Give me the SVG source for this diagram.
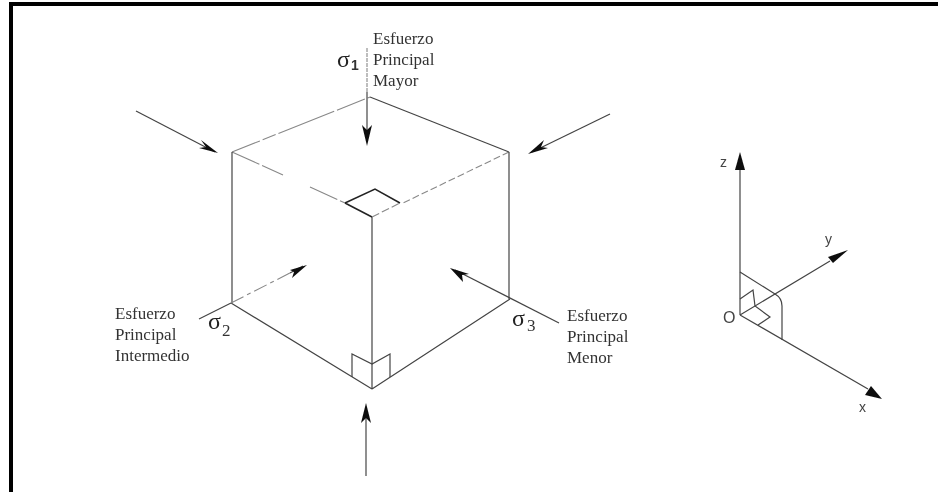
<svg xmlns="http://www.w3.org/2000/svg" width="938" height="492" viewBox="0 0 938 492">
<defs>
<style>
.e{fill:none;stroke:#444;stroke-width:1.2}
.d{fill:none;stroke:#888;stroke-width:1.1}
.k{fill:none;stroke:#222;stroke-width:1.5}
.h{fill:#111;stroke:none}
.t{font-family:"Liberation Serif","Times New Roman",serif;font-size:17px;fill:#333}
.s{font-family:"Liberation Serif",serif;font-size:24px;fill:#222}
.n{font-family:"Liberation Serif",serif;font-size:17px;fill:#333}
.u{font-family:"Liberation Sans",Arial,sans-serif;font-size:14px;font-weight:bold;fill:#333}
.a{font-family:"Liberation Sans",Arial,sans-serif;font-size:14px;fill:#444}
.o{font-family:"Liberation Sans",Arial,sans-serif;font-size:16px;fill:#444}
</style>
<filter id="b" x="-5%" y="-5%" width="110%" height="110%"><feGaussianBlur stdDeviation="0.55"/></filter>
</defs>
<rect width="938" height="492" fill="#fff"/>
<g id="frame"><path d="M938 4H11V492" fill="none" stroke="#000" stroke-width="4"/></g>
<g filter="url(#b)">
<g id="connectors">
<path class="d" d="M232 152L370 97" stroke-dasharray="30 3 14 3 60 3"/>
<path class="e" d="M370 97L509 152"/>
<path class="d" d="M232 152L283 175M310 187L345 203" stroke-dasharray="30 3"/>
<path class="d" d="M509 152L403 203" stroke-dasharray="7 3"/>
<path class="e" d="M232 152V303M509 152V299M372 217V389M231 303L372 389M510 299L372 389"/>
<path class="k" d="M345 203L375 189L400 203M345 203L372 217"/>
<path class="d" d="M372 217L400 203" stroke-dasharray="8 3"/>
<path class="e" d="M352 377V354L372 364L390 354V377"/>
<path class="d" d="M367 48V92" stroke-dasharray="4 1"/>
<path class="e" d="M367 92V132"/>
<path class="h" d="M367 146L362 125L367 130L372 125Z"/>
<path class="e" d="M136 111L215 152"/>
<path class="h" d="M218 153L201 140L206 147L199 148Z"/>
<path class="e" d="M610 114L532 152"/>
<path class="h" d="M528 154L548 148L541 147L544 140Z"/>
<path class="e" d="M199 319L231 303"/>
<path class="d" d="M231 303L290 273" stroke-dasharray="14 4 4 4"/>
<path class="e" d="M290 273L303 266"/>
<path class="h" d="M307 265L290 270L294 272L292 278Z"/>
<path class="e" d="M559 323L455 270"/>
<path class="h" d="M450 268L463 282L462 275L469 274Z"/>
<path class="e" d="M366 476V408"/>
<path class="h" d="M366 403L361 423L366 418L371 423Z"/>
</g>
<g id="axes">
<path class="e" d="M740 168V315M740 315L830 261M740 315L868 389"/>
<path class="h" d="M740 152L735 170H745Z"/>
<path class="h" d="M848 250L828 257L833 263Z"/>
<path class="h" d="M882 399L871 386L865 395Z"/>
<path class="e" d="M740 272L775 294Q782 298 782 306V340"/>
<path class="e" d="M740 299L753 290L755 306L770 317L758 325"/>
</g>
<g id="label-mayor"><text class="s" x="337" y="67">σ</text><text class="u" x="351" y="70">1</text>
<text class="t" x="373" y="44">Esfuerzo</text><text class="t" x="373" y="65">Principal</text><text class="t" x="373" y="86">Mayor</text></g>
<g id="label-intermedio"><text class="s" x="208" y="329">σ</text><text class="n" x="222" y="336">2</text>
<text class="t" x="115" y="319">Esfuerzo</text><text class="t" x="115" y="340">Principal</text><text class="t" x="115" y="361">Intermedio</text></g>
<g id="label-menor"><text class="s" x="512" y="326">σ</text><text class="n" x="527" y="331">3</text>
<text class="t" x="567" y="321">Esfuerzo</text><text class="t" x="567" y="342">Principal</text><text class="t" x="567" y="363">Menor</text></g>
<g id="label-axes"><text class="a" x="720" y="167">z</text><text class="a" x="825" y="244">y</text><text class="o" x="723" y="323">O</text><text class="a" x="859" y="412">x</text></g>
</g>
</svg>
